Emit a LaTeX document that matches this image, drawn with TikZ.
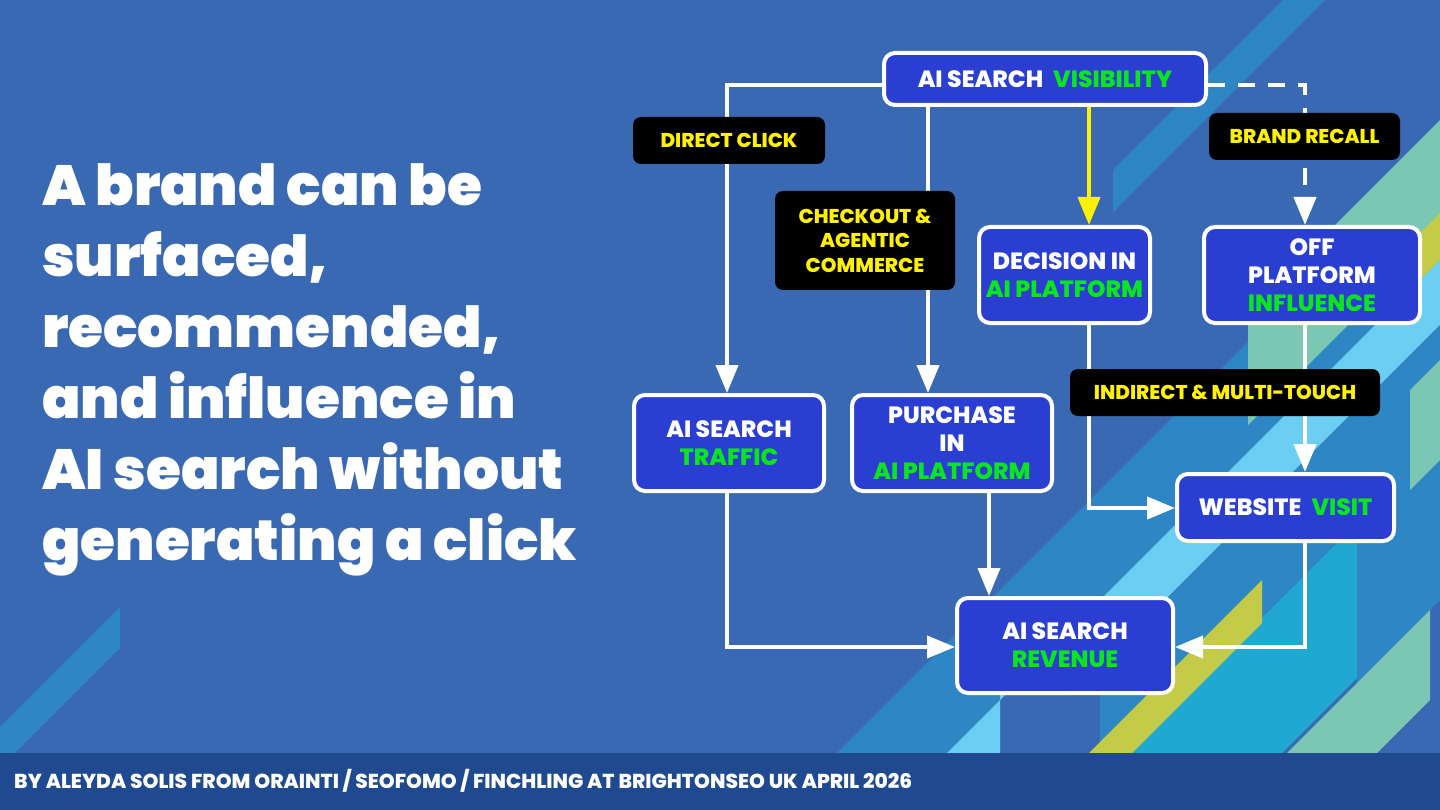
\documentclass[tikz,border=0pt]{standalone}
\usepackage{fontspec}
\setmainfont{Poppins}[BoldFont={Poppins ExtraBold}]
\newfontfamily\titlefont{Poppins Black}
\usetikzlibrary{arrows.meta,calc}
\definecolor{bg}{HTML}{3A69B3}
\definecolor{foot}{HTML}{1F4A8F}
\definecolor{boxblue}{HTML}{2A3FD1}
\definecolor{gr}{HTML}{0BE41F}
\definecolor{yl}{HTML}{FFF200}
\definecolor{sA}{HTML}{2E87C4}
\definecolor{lb}{HTML}{6DCEF4}
\definecolor{mint}{HTML}{7CC7B4}
\definecolor{olive}{HTML}{C4CB48}
\definecolor{cy}{HTML}{21A8D1}
\newcommand\stripe[5]{\fill[#1] (#4,{#2-#4}) -- (#4,{#3-#4}) -- (#5,{#3-#5}) -- (#5,{#2-#5}) -- cycle;}
\tikzset{
  box/.style={draw=white, line width=4pt, fill=boxblue, rounded corners=11pt, align=center,
    text=white, font=\bfseries\fontsize{23.5}{28}\selectfont, inner sep=0pt},
  lab/.style={fill=black, rounded corners=8pt, align=center, text=yl,
    font=\bfseries\fontsize{20}{24.5}\selectfont, inner sep=0pt},
  conn/.style={white, line width=4pt},
  arr/.style={-{Triangle[width=22pt,length=28pt]}},
}
\begin{document}
\begin{tikzpicture}[x=1pt,y=-1pt]
\useasboundingbox (0,0) rectangle (1440,810);
\fill[bg] (0,0) rectangle (1440,810);
% background stripes
\begin{scope}
\clip (0,0) rectangle (1440,753);
\stripe{sA}{1283}{1325}{1113}{1440}
\stripe{sA}{727}{768}{-100}{120}
\stripe{sA}{1590}{1700}{700}{1440}
\stripe{mint}{1560}{1673}{1248}{1440}
\stripe{olive}{1653}{1700}{1400}{1440}
\fill[lb] (1440,260) -- (1440,325) -- (1070,695) -- (1000,695) -- (1000,765) -- (935,765) -- cycle;
\stripe{sA}{1765}{1880}{1100}{1440}
\stripe{cy}{1880}{2035}{800}{1357}
\stripe{sA}{1880}{2040}{1357}{1440}
\stripe{olive}{1842}{1885}{800}{1262}
\stripe{mint}{2040}{2130}{1000}{1430}
\stripe{mint}{1800}{1900}{1410}{1440}
\end{scope}
% footer
\fill[foot] (0,753) rectangle (1440,810);
\node[anchor=west, text=white, font=\bfseries\fontsize{20.2}{22}\selectfont, inner sep=0pt] (footer) at (14,781)
  {BY ALEYDA SOLIS FROM ORAINTI / SEOFOMO / FINCHLING AT BRIGHTONSEO UK APRIL 2026};
% title
\node[anchor=north west, align=left, text=white, font=\titlefont\fontsize{56.6}{71}\selectfont, inner sep=0pt] (title) at (42,163)
  {A brand can be\\surfaced,\\recommended,\\and influence in\\AI search without\\generating a click};
% boxes
\node[box, minimum width=322pt, minimum height=52pt] (vis) at (1045,79) {AI SEARCH\hspace{10pt}\textcolor{gr}{VISIBILITY}};
\node[box, minimum width=171pt, minimum height=96pt] (dec) at (1064.5,275) {DECISION IN\\\textcolor{gr}{AI PLATFORM}};
\node[box, minimum width=216pt, minimum height=96pt] (off) at (1312,275) {OFF\\PLATFORM\\\textcolor{gr}{INFLUENCE}};
\node[box, minimum width=190pt, minimum height=96pt] (traf) at (729,443) {AI SEARCH\\\textcolor{gr}{TRAFFIC}};
\node[box, minimum width=200pt, minimum height=96pt] (purch) at (952,443) {PURCHASE\\IN\\\textcolor{gr}{AI PLATFORM}};
\node[box, minimum width=217pt, minimum height=67pt] (web) at (1285.5,507.5) {WEBSITE\hspace{10pt}\textcolor{gr}{VISIT}};
\node[box, minimum width=216pt, minimum height=95pt] (rev) at (1065,645.5) {AI SEARCH\\\textcolor{gr}{REVENUE}};
% guide coordinates
\coordinate (xA) at (727,0);
\coordinate (xB) at (928,0);
\coordinate (xC) at (1089,0);
\coordinate (xD) at (1305,0);
\coordinate (xE) at (989,0);
\coordinate (yT) at (0,85);
\coordinate (yW) at (0,508);
\coordinate (yR) at (0,647);
% connectors
\draw[conn,arr] (vis.west |- yT) -- (xA |- yT) -- (traf.north -| xA);
\draw[conn,arr] (vis.south -| xB) -- (purch.north -| xB);
\draw[conn,yl,arr] (vis.south -| xC) -- (dec.north -| xC);
\draw[conn,arr,dash pattern=on 17pt off 13pt] (vis.east |- yT) -- (xD |- yT) -- (off.north -| xD);
\draw[conn,arr] (off.south -| xD) -- (web.north -| xD);
\draw[conn,arr] (dec.south -| xC) -- (xC |- yW) -- (web.west |- yW);
\draw[conn,arr] (traf.south -| xA) -- (xA |- yR) -- (rev.west |- yR);
\draw[conn,arr] (purch.south -| xE) -- (rev.north -| xE);
\draw[conn,arr] (web.south -| xD) -- (xD |- yR) -- (rev.east |- yR);
% labels
\node[lab, minimum width=192pt, minimum height=47pt] (dclick) at (729,140.5) {DIRECT CLICK};
\node[lab, minimum width=180pt, minimum height=99pt] (check) at (865,240.5) {CHECKOUT \&\\AGENTIC\\COMMERCE};
\node[lab, minimum width=191pt, minimum height=47pt] (brand) at (1304.5,136.5) {BRAND RECALL};
\node[lab, minimum width=310pt, minimum height=47pt] (indir) at (1225,392.5) {INDIRECT \& MULTI-TOUCH};
\end{tikzpicture}
\end{document}
